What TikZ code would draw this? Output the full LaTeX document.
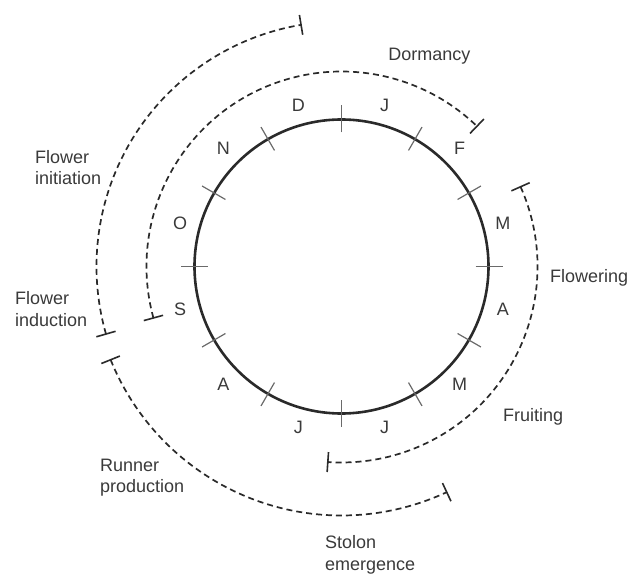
\documentclass[tikz,border=0pt]{standalone}
\usepackage{fontspec}
\setmainfont{Liberation Sans}
\usetikzlibrary{calc}
\definecolor{ink}{HTML}{2A2A2A}
\definecolor{txt}{HTML}{3A3A3A}
\definecolor{tickc}{HTML}{6A6A6A}
\newcommand\phasearc[4]{%
  \pgfmathsetmacro\rin{#2-10}\pgfmathsetmacro\rout{#2+10}%
  \coordinate (#1s) at ([shift={(#3:#2)}]c);
  \coordinate (#1e) at ([shift={(#4:#2)}]c);
  \draw[phase] (#1s) arc[start angle=#3, end angle=#4, radius=#2];
  \draw[phasetick] ([shift={(#3:\rin)}]c) -- ([shift={(#3:\rout)}]c);
  \draw[phasetick] ([shift={(#4:\rin)}]c) -- ([shift={(#4:\rout)}]c);
}
\begin{document}
\begin{tikzpicture}[x=1pt,y=1pt,
  every node/.style={text=txt, font=\fontsize{18}{21.5}\selectfont, inner sep=0pt},
  phase/.style={draw=ink, line width=1.7pt, dash pattern=on 6pt off 4pt},
  phasetick/.style={draw=ink, line width=1.6pt},
  ring/.style={draw=ink, line width=2.6pt},
  monthtick/.style={draw=tickc, line width=1.2pt},
  phaselabel/.style={anchor=west, align=left}]
\useasboundingbox (0,0) rectangle (630,576);
\coordinate (c) at (341.5,309.5);
% year ring
\draw[ring] (c) circle[radius=147];
\foreach \a in {0,30,...,330}
  \draw[monthtick] ([shift={(\a:134)}]c) -- ([shift={(\a:161)}]c);
% month letters
\foreach \a/\m/\n in {105/D/mD,75/J/mJa,45/F/mF,15/M/mMa,-15/A/mAp,-45/M/mMy,
                      -75/J/mJn,-105/J/mJl,-135/A/mAu,-165/S/mS,165/O/mO,135/N/mN}
  \node (\n) at ([shift={(\a:167)}]c) {\m};
% phase arcs
\phasearc{dorm}{195}{195.3}{46}
\phasearc{init}{245}{196}{99.5}
\phasearc{runr}{249}{202}{295}
\phasearc{flow}{196}{24}{-94}
% phase labels
\node (ldorm) at (429.3,520) {Dormancy};
\node[phaselabel] (linit) at (35,408.5) {Flower\\initiation};
\node[phaselabel] (lind) at (15,267) {Flower\\induction};
\node[phaselabel] (lflow) at (550,297.7) {Flowering};
\node[phaselabel] (lfruit) at (503,159.3) {Fruiting};
\node[phaselabel] (lrun) at (100,98.5) {Runner\\production};
\node[phaselabel] (lstol) at (325,21) {Stolon\\emergence};
\end{tikzpicture}
\end{document}
